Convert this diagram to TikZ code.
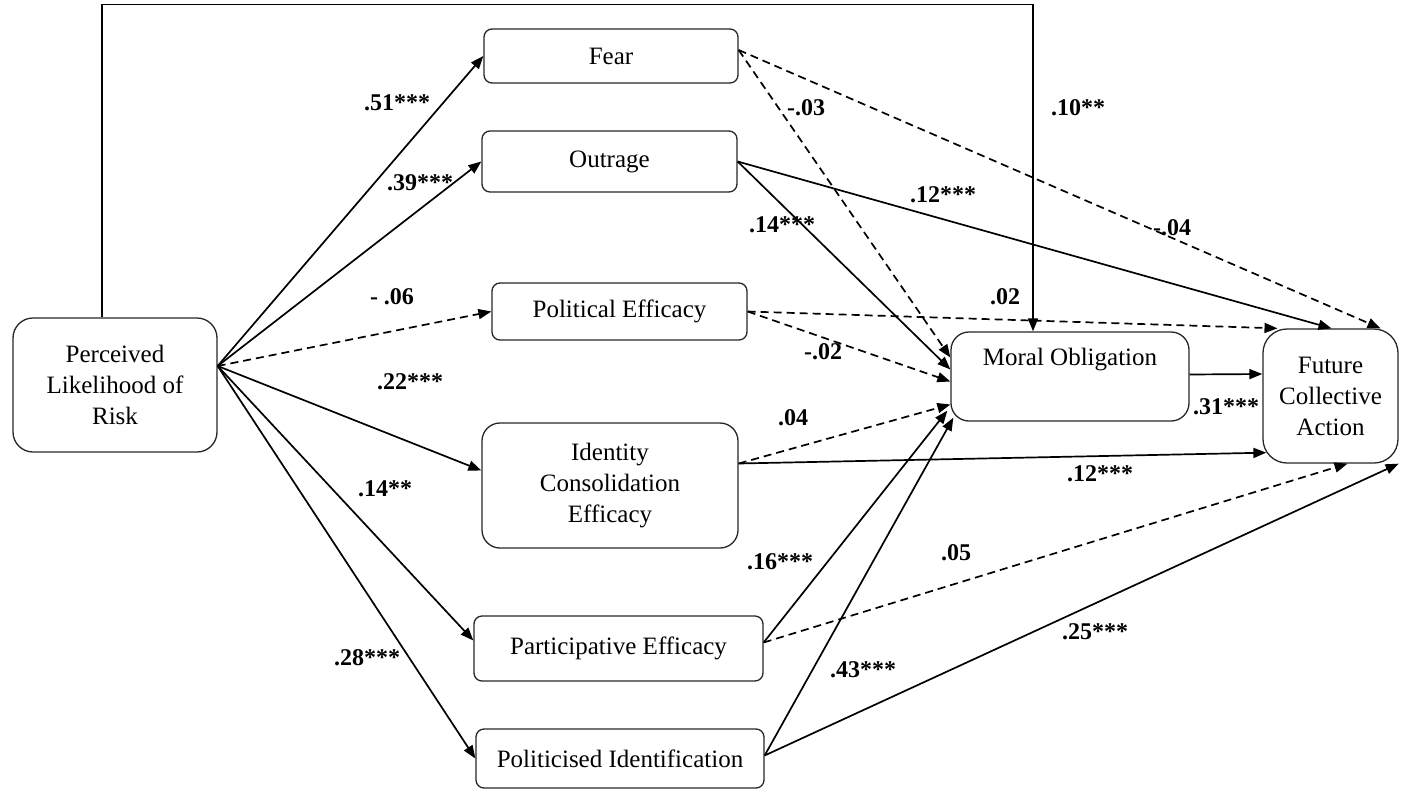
\documentclass[tikz,border=0pt]{standalone}
\usepackage{fontspec}
\setmainfont{Liberation Serif}
\usetikzlibrary{arrows.meta,calc}
\begin{document}
\begin{tikzpicture}[x=1pt,y=-1pt,
  box/.style={draw=black!85, line width=1.3pt, inner sep=0pt, align=center,
              font=\fontsize{25}{31}\selectfont},
  link/.style={line width=1.7pt, -{Triangle[length=13pt,width=10pt]}},
  dlink/.style={link, dash pattern=on 8pt off 5pt},
  coef/.style={font=\fontsize{24}{26}\selectfont\bfseries, inner sep=0pt}
]
\useasboundingbox (0,0) rectangle (1401,793);

% variables
\node[box, rounded corners=20pt, minimum width=204pt, minimum height=134pt] (perc) at (115,385)
  {Perceived\\Likelihood of\\Risk};
\node[box, rounded corners=8pt, minimum width=254pt, minimum height=54pt] (fear) at (611,56) {Fear};
\node[box, rounded corners=8pt, minimum width=255pt, minimum height=61pt] (outr) at (609.5,161.5) {Outrage};
\node[box, rounded corners=8pt, minimum width=255pt, minimum height=57pt] (pol) at (619.5,311.5) {Political Efficacy};
\node[box, rounded corners=18pt, minimum width=256pt, minimum height=125pt] (iden) at (610,485.5)
  {Identity\\Consolidation\\Efficacy};
\node[box, rounded corners=8pt, minimum width=289pt, minimum height=65pt] (part) at (618.5,648.5) {Participative Efficacy};
\node[box, rounded corners=8pt, minimum width=288pt, minimum height=59pt] (poli) at (620,758.5) {Politicised Identification};
\node[box, rounded corners=18pt, minimum width=238pt, minimum height=89pt] (moral) at (1070,376.5) {};
\node[font=\fontsize{25}{31}\selectfont, inner sep=0pt] (moralname) at (1070,360) {Moral Obligation};
\node[box, rounded corners=24pt, minimum width=135pt, minimum height=134pt] (fut) at (1330.5,396)
  {Future\\Collective\\Action};

\coordinate (pe) at ([yshift=19pt]perc.east);

% paths from perceived likelihood
\draw[link] (pe) -- (fear.west);
\draw[link] (pe) -- (outr.west);
\draw[dlink] (pe) -- (pol.west);
\draw[link] (pe) -- ([yshift=15pt]iden.west);
\draw[link] (pe) -- ([yshift=8pt]part.west);
\draw[link] (pe) -- (poli.west);
\draw[link] ([xshift=-13pt]perc.north) -- ++(0,-313) -| ([xshift=-37pt]moral.north);

% paths from emotions
\draw[dlink] ([yshift=6pt]fear.east) -- ([yshift=19pt]moral.west);
\draw[dlink] ([yshift=6pt]fear.east) -- ([xshift=50pt]fut.north);
\draw[link] (outr.east) -- ([yshift=7pt]moral.west);
\draw[link] (outr.east) -- ([xshift=1pt]fut.north);

% paths from efficacy and identification
\draw[dlink] (pol.east) -- ([yshift=-5pt]moral.west);
\draw[dlink] (pol.east) -- ([xshift=-53pt]fut.north);
\draw[dlink] ([yshift=22pt]iden.east) -- ([yshift=-28pt]moral.west);
\draw[link] ([yshift=22pt]iden.east) -- ([shift={(4pt,11pt)}]fut.south west);
\draw[link] ([yshift=6pt]part.east) -- ([shift={(-3pt,11pt)}]moral.south west);
\draw[dlink] ([yshift=6pt]part.east) -- ([xshift=17pt]fut.south);
\draw[link] ([yshift=3pt]poli.east) -- ([shift={(3pt,4pt)}]moral.south west);
\draw[link] ([yshift=3pt]poli.east) -- (fut.south east);
\draw[link] ([yshift=2pt]moral.east) -- ([yshift=22pt]fut.west);

% coefficients
\node[coef] (c1) at (397,103) {.51***};
\node[coef] (c2) at (420,183) {.39***};
\node[coef] (c3) at (392,297) {- .06};
\node[coef] (c4) at (410,382) {.22***};
\node[coef] (c5) at (385,489) {.14**};
\node[coef] (c6) at (367,658) {.28***};
\node[coef] (c7) at (1078,108) {.10**};
\node[coef] (c8) at (806,108) {-.03};
\node[coef] (c9) at (1172,228) {-.04};
\node[coef] (c10) at (782,225) {.14***};
\node[coef] (c11) at (943,195) {.12***};
\node[coef] (c12) at (823,352) {-.02};
\node[coef] (c13) at (1005,297) {.02};
\node[coef] (c14) at (793,418) {.04};
\node[coef] (c15) at (1100,474) {.12***};
\node[coef] (c16) at (1226,407) {.31***};
\node[coef] (c17) at (780,562) {.16***};
\node[coef] (c18) at (956,553) {.05};
\node[coef] (c19) at (863,670) {.43***};
\node[coef] (c20) at (1095,632) {.25***};
\end{tikzpicture}
\end{document}
